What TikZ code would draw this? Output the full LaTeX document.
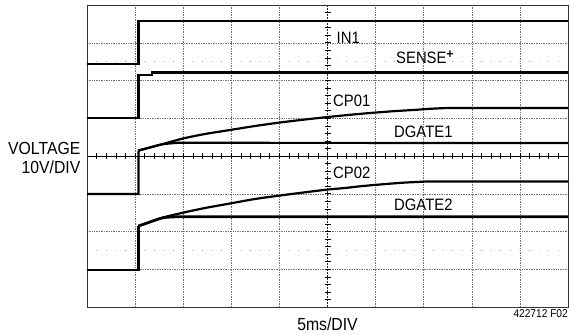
\documentclass[tikz,border=0pt]{standalone}
\usepackage{fontspec}
\setmainfont{Liberation Sans}[FakeStretch=0.9]
\begin{document}
\begin{tikzpicture}[x=1pt,y=-1pt,
  gridline/.style={black!55, line width=0.5pt, dash pattern=on 0.8pt off 0.9pt},
  frameline/.style={black!80, line width=0.8pt},
  axisline/.style={black, line width=0.7pt},
  vaxisline/.style={black!85, line width=0.6pt, dash pattern=on 2pt off 1pt},
  tickline/.style={black, line width=0.6pt},
  trace/.style={black, line width=2.2pt, line join=miter},
  thicktrace/.style={black, line width=2.7pt, line join=miter},
  lbl/.style={font=\fontsize{16.5}{18}\selectfont, inner sep=0pt, anchor=base west},
  axlbl/.style={font=\fontsize{17.5}{19}\selectfont, inner sep=0pt},
  smalllbl/.style={font=\fontsize{11.3}{12}\selectfont, inner sep=0pt, anchor=base east}]
\useasboundingbox (0,0) rectangle (571,335);
% graticule
\foreach \i in {1,2,3,4,6,7,8,9} {\draw[gridline] ({87+48.1*\i},5) -- ({87+48.1*\i},307);}
\foreach \j in {1,2,3,5,6,7} {\draw[gridline] (87,{5+37.75*\j}) -- (568,{5+37.75*\j});}
\foreach \k in {1,...,49} {
  \fill[black!50] ({87+9.62*\k},61.6) circle (0.45pt);
  \fill[black!50] ({87+9.62*\k},250.4) circle (0.45pt);
  \draw[tickline] ({87+9.62*\k},153) -- ({87+9.62*\k},159);
}
\draw[axisline] (87,156) -- (568,156);
\draw[vaxisline] (327.5,5) -- (327.5,307);
\foreach \k in {1,...,39} {\draw[tickline] (324.5,{5+7.55*\k}) -- (330.5,{5+7.55*\k});}
\draw[frameline] (87,5) rectangle (568,307);
% IN1
\draw[trace] (87,64) -- (138.5,64) -- (138.5,20.7) -- (568,20.7);
% SENSE+
\draw[trace] (87,118.3) -- (138.5,118.3) -- (138.5,75) -- (152,75) -- (152,72.5) -- (568,72.5);
\draw[black, line width=0.9pt, dash pattern=on 7pt off 3pt on 2pt off 4pt on 12pt off 2pt on 3pt off 6pt] (165,71.6) -- (568,71.6);
% CP01 and DGATE1
\draw[trace] (87,194) -- (138.5,194) -- (138.5,150.5)
  plot[smooth, tension=0.5] coordinates {(138.5,150.5) (150,147.5) (163,144) (183,138.5) (205,134) (230,130) (255,126) (280,122.5) (305,119.5) (328,117) (350,114.8) (370,113) (392,111.3) (413,110) (430,108.8) (447,108)} -- (568,108);
\draw[trace] plot[smooth, tension=0.5] coordinates {(138.5,150.5) (150,147.4) (163,144.2) (178,142.8)} -- (568,143);
% CP02 and DGATE2
\draw[thicktrace] (87,270) -- (138.5,270) -- (138.5,226);
\draw[trace] (138.5,226)
  plot[smooth, tension=0.5] coordinates {(138.5,226) (150,222) (163,217.5) (183,212.7) (205,208) (230,203.5) (255,199) (280,195.5) (305,192.3) (328,189.5) (345,188) (360,186.3) (380,184.5) (403,182.7) (427,181.5)} -- (568,181.5);
\draw[thicktrace] plot[smooth, tension=0.5] coordinates {(138.5,226) (150,222) (163,217.8) (177,216.8)} -- (568,216.8);
% labels
\node[lbl] (in1) at (336.5,43) {IN1};
\node[lbl] (sense) at (396,63.5) {SENSE\raisebox{5.5pt}{\fontsize{13}{14}\selectfont\bfseries +}};
\node[lbl] (cp01) at (333,106) {CP01};
\node[lbl] (dgate1) at (394,137) {DGATE1};
\node[lbl] (cp02) at (333,178.5) {CP02};
\node[lbl] (dgate2) at (394,210) {DGATE2};
\node[axlbl, anchor=base east] (volt) at (80.5,154.5) {VOLTAGE};
\node[axlbl, anchor=base east] (vdiv) at (80.5,173.5) {10V/DIV};
\node[axlbl, anchor=base] (tdiv) at (327.5,330) {5ms/DIV};
\node[smalllbl] (fig) at (568,317) {422712 F02};
\end{tikzpicture}
\end{document}
